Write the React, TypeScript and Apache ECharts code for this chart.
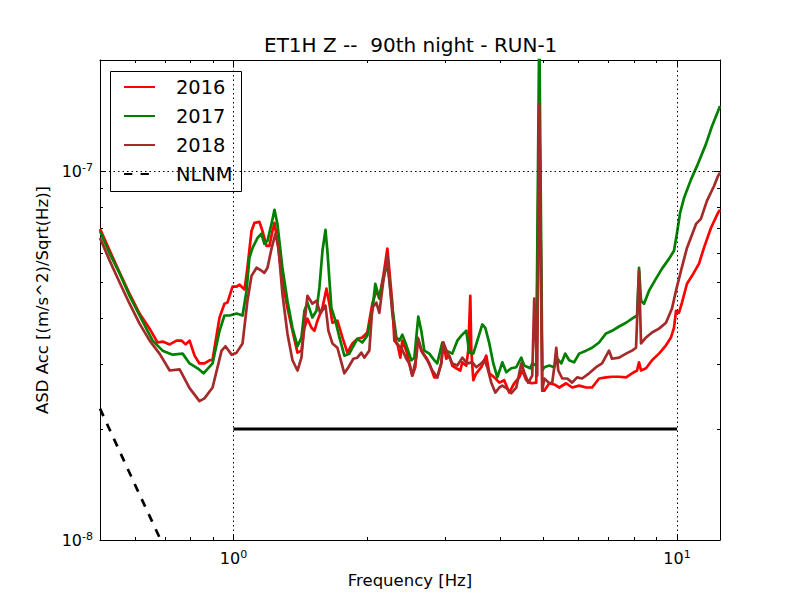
import React, { useEffect, useRef } from "react";
import * as echarts from "echarts";

const TITLE = "ET1H Z --  90th night - RUN-1";
const X_NAME = "Frequency [Hz]";
const Y_NAME = "ASD Acc [(m/s^2)/Sqrt(Hz)]";
const LEGEND_NAMES = ["2016", "2017", "2018", "NLNM"];

// axis limits: frequency in Hz, ASD in m/s^2/sqrt(Hz)
const F_MIN = 0.5;
const F_MAX = 12.5;
const A_MIN = 1e-8;
const A_MAX = 2e-7;
const MAJOR_F = [1, 10];
const MINOR_F = [0.6, 0.7, 0.8, 0.9, 2, 3, 4, 5, 6, 7, 8, 9];
const MAJOR_A = [1e-8, 1e-7];
const MINOR_A = [2e-8, 3e-8, 4e-8, 5e-8, 6e-8, 7e-8, 8e-8, 9e-8];

// ASD values below are given in units of 1e-8 (m/s^2)/sqrt(Hz)
const ASD_UNIT = 1e-8;

const freq2016 = [0.5, 0.526, 0.554, 0.583, 0.614, 0.647, 0.674, 0.692, 0.718, 0.744,
  0.764, 0.78, 0.796, 0.817, 0.838, 0.86, 0.883, 0.897, 0.93, 0.954,
  0.969, 0.995, 1.016, 1.032, 1.059, 1.075, 1.098, 1.115, 1.144, 1.162,
  1.187, 1.205, 1.224, 1.237, 1.256, 1.289, 1.323, 1.358, 1.394, 1.423,
  1.445, 1.468, 1.499, 1.522, 1.546, 1.587, 1.62, 1.645, 1.671, 1.715,
  1.76, 1.806, 1.854, 1.902, 1.952, 2.003, 2.056, 2.099, 2.132, 2.177,
  2.223, 2.281, 2.305, 2.341, 2.378, 2.402, 2.453, 2.491, 2.53, 2.57,
  2.597, 2.651, 2.721, 2.764, 2.836, 2.88, 2.941, 2.972, 3.018, 3.066,
  3.114, 3.179, 3.246, 3.28, 3.348, 3.383, 3.419, 3.437, 3.473, 3.527,
  3.62, 3.715, 3.774, 3.873, 3.975, 4.077, 4.184, 4.295, 4.407, 4.478,
  4.572, 4.692, 4.815, 4.891, 4.968, 5.02, 5.152, 5.287, 5.426, 5.623,
  5.801, 6.015, 6.237, 6.434, 6.672, 6.918, 7.136, 7.401, 7.674, 7.916,
  8.125, 8.21, 8.296, 8.514, 8.783, 9.107, 9.443, 9.691, 9.844, 9.947,
  10.1, 10.26, 10.53, 10.81, 11.21, 11.5, 11.93, 12.37, 12.5];
const asd2016 = [6.97, 6.08, 5.3, 4.65, 4.11, 3.74, 3.43, 3.45, 3.39, 3.47,
  3.47, 3.39, 3.47, 3.16, 3.01, 3.01, 3.07, 3.08, 4.01, 4.37,
  4.4, 4.86, 4.86, 4.92, 4.77, 5.47, 6.88, 7.24, 7.28, 6.88,
  6.27, 6.27, 6.88, 7.24, 6.47, 5.04, 4.26, 3.69, 3.22, 3.26,
  3.76, 3.98, 3.76, 3.69, 3.93, 4.26, 4.8, 4.37, 3.88, 3.93,
  3.54, 3.22, 3.41, 3.51, 3.54, 3.65, 4.37, 4.74, 4.54, 5.2,
  6.16, 4.37, 3.47, 3.41, 3.12, 3.47, 3.26, 3.01, 2.79, 2.94,
  3.54, 3.26, 3.12, 3.01, 2.76, 2.76, 3.01, 3.43, 3.1, 3.16,
  2.97, 2.92, 2.88, 3.03, 2.97, 3.26, 4.59, 3.26, 2.71, 2.83,
  2.94, 3.16, 2.83, 2.76, 2.67, 2.71, 2.51, 2.66, 2.76, 2.88,
  2.71, 2.66, 2.67, 15.46, 2.54, 2.54, 2.66, 2.64, 2.59, 2.66,
  2.59, 2.62, 2.59, 2.59, 2.74, 2.76, 2.77, 2.77, 2.76, 2.83,
  2.88, 3.03, 2.88, 2.92, 3.07, 3.2, 3.37, 3.54, 3.76, 4.18,
  4.13, 4.4, 4.95, 5.2, 5.61, 6.19, 7.02, 7.7, 7.85];

const freq2017 = [0.5, 0.526, 0.554, 0.583, 0.614, 0.657, 0.692, 0.729, 0.768, 0.796,
  0.83, 0.856, 0.897, 0.93, 0.954, 0.98, 1.016, 1.048, 1.07, 1.086,
  1.104, 1.133, 1.156, 1.174, 1.193, 1.218, 1.237, 1.256, 1.289, 1.323,
  1.358, 1.394, 1.423, 1.445, 1.468, 1.506, 1.538, 1.562, 1.587, 1.612,
  1.628, 1.662, 1.697, 1.733, 1.778, 1.825, 1.854, 1.902, 1.952, 2.003,
  2.056, 2.088, 2.132, 2.177, 2.223, 2.281, 2.329, 2.365, 2.402, 2.453,
  2.517, 2.557, 2.61, 2.651, 2.693, 2.764, 2.836, 2.88, 2.956, 3.018,
  3.114, 3.196, 3.263, 3.348, 3.401, 3.473, 3.546, 3.639, 3.696, 3.774,
  3.853, 3.934, 4.037, 4.122, 4.23, 4.341, 4.455, 4.524, 4.667, 4.716,
  4.815, 4.891, 4.968, 5.02, 5.152, 5.287, 5.37, 5.483, 5.598, 5.712,
  5.861, 6.015, 6.237, 6.434, 6.672, 6.918, 7.136, 7.401, 7.674, 7.916,
  8.125, 8.21, 8.296, 8.426, 8.648, 8.967, 9.25, 9.591, 9.844, 10.0,
  10.16, 10.37, 10.75, 11.09, 11.62, 11.99, 12.37, 12.5];
const asd2017 = [6.88, 5.97, 5.27, 4.59, 4.06, 3.47, 3.26, 3.18, 3.2, 3.01,
  2.92, 2.83, 3.01, 3.69, 4.06, 4.06, 4.11, 4.06, 4.74, 5.82,
  6.19, 6.59, 6.76, 6.35, 6.47, 7.19, 7.85, 7.19, 5.47, 4.45,
  3.76, 3.35, 3.54, 4.18, 4.4, 4.01, 4.18, 4.83, 6.08, 6.93,
  6.08, 4.26, 3.93, 3.54, 3.16, 3.2, 3.32, 3.51, 3.43, 3.58,
  4.18, 4.95, 4.51, 5.11, 5.64, 4.26, 3.54, 3.47, 3.6, 3.37,
  3.07, 3.12, 4.03, 3.69, 3.26, 3.2, 3.07, 3.01, 3.43, 3.26,
  3.2, 3.47, 3.58, 3.69, 3.22, 3.2, 3.47, 3.84, 3.76, 3.41,
  3.01, 2.76, 3.03, 2.85, 2.92, 2.94, 3.12, 2.97, 2.92, 3.01,
  2.97, 25, 2.88, 2.94, 2.97, 2.94, 3.1, 3.01, 3.2, 3.07,
  3.03, 3.2, 3.26, 3.32, 3.43, 3.63, 3.69, 3.79, 3.88, 3.98,
  4.06, 5.47, 4.45, 4.37, 4.74, 5.11, 5.44, 5.78, 6.08, 6.8,
  7.7, 8.45, 9.48, 10.31, 11.83, 13.23, 14.53, 15.0];

const freq2018 = [0.5, 0.526, 0.554, 0.583, 0.614, 0.647, 0.681, 0.718, 0.756, 0.796,
  0.838, 0.86, 0.897, 0.94, 0.959, 0.99, 1.016, 1.048, 1.075, 1.098,
  1.127, 1.156, 1.174, 1.193, 1.218, 1.243, 1.263, 1.289, 1.323, 1.358,
  1.394, 1.423, 1.445, 1.468, 1.506, 1.538, 1.57, 1.612, 1.637, 1.671,
  1.715, 1.778, 1.816, 1.863, 1.902, 1.942, 1.972, 2.024, 2.056, 2.099,
  2.132, 2.177, 2.223, 2.281, 2.329, 2.39, 2.453, 2.491, 2.53, 2.583,
  2.61, 2.665, 2.735, 2.807, 2.88, 2.941, 2.972, 3.034, 3.114, 3.196,
  3.28, 3.366, 3.455, 3.527, 3.62, 3.677, 3.735, 3.813, 3.893, 3.975,
  4.037, 4.122, 4.23, 4.341, 4.455, 4.524, 4.619, 4.716, 4.765, 4.84,
  4.891, 4.968, 5.02, 5.152, 5.232, 5.287, 5.342, 5.398, 5.511, 5.653,
  5.801, 5.953, 6.109, 6.335, 6.569, 6.776, 7.026, 7.136, 7.401, 7.674,
  7.916, 8.083, 8.21, 8.296, 8.514, 8.783, 9.107, 9.443, 9.742, 9.947,
  10.21, 10.53, 11.04, 11.32, 11.68, 12.12, 12.37, 12.5];
const asd2018 = [6.59, 5.71, 4.98, 4.37, 3.86, 3.47, 3.2, 2.88, 2.9, 2.58,
  2.38, 2.42, 2.59, 3.26, 3.35, 3.18, 3.22, 3.41, 4.45, 5.2,
  5.47, 5.37, 5.3, 5.47, 6.16, 6.76, 6.19, 4.65, 3.63, 3.07,
  2.88, 3.12, 3.86, 4.59, 4.37, 4.45, 4.11, 4.32, 3.69, 3.41,
  3.32, 2.83, 2.94, 3.1, 3.12, 3.22, 3.12, 3.26, 4.26, 4.4,
  4.13, 5.04, 5.89, 4.11, 3.41, 3.32, 3.1, 3.01, 2.79, 3.12,
  3.51, 3.22, 3.07, 2.88, 2.76, 3.01, 3.43, 3.22, 3.01, 2.97,
  3.12, 3.01, 3.03, 2.94, 3.01, 3.07, 2.94, 2.67, 2.51, 2.59,
  2.62, 2.58, 2.5, 2.59, 3.01, 2.85, 2.67, 2.79, 4.51, 2.79,
  15.18, 2.54, 2.74, 2.66, 2.67, 2.94, 3.32, 2.88, 2.74, 2.74,
  2.67, 2.76, 2.74, 2.83, 2.94, 3.01, 3.26, 3.1, 3.12, 3.2,
  3.26, 3.32, 5.37, 3.41, 3.54, 3.65, 3.74, 3.88, 4.24, 4.74,
  5.37, 6.19, 7.19, 7.42, 8.3, 9.11, 9.69, 9.9];

const freqNLNM = [0.5, 0.6, 0.72];
const asdNLNM = [2.27, 1.41, 0.88];

const freqRef = [1, 10];
const asdRef = [2, 2];

const FONT = "DejaVu Sans";

const toPoints = (f: number[], a: number[]) =>
  f.map((x, i) => [Math.log10(x), Math.log10(a[i] * ASD_UNIT)]);

export default function App() {
  const ref = useRef<HTMLDivElement>(null);

  useEffect(() => {
    if (!ref.current) return;
    const chart = echarts.init(ref.current, null, { renderer: "svg" });
    const lg = (v: number) => Math.log10(v);
    const xMin = lg(F_MIN);
    const xMax = lg(F_MAX);
    const yMin = lg(A_MIN);
    const yMax = lg(A_MAX);

    const rich = {
      b: { fontSize: 16, lineHeight: 18, color: "#000", fontFamily: FONT },
      s: { fontSize: 11, lineHeight: 11, verticalAlign: "top", color: "#000", fontFamily: FONT },
    };
    const fmt = (v: number) => `{b|10}{s|${Math.round(v)}}`;
    const black = { color: "#000", width: 1 };
    const lineOn = { show: true, onZero: false, lineStyle: black };
    const lineOff = { show: false, onZero: false };
    const majorTick = (vals: number[]) => ({
      show: true, inside: true, length: 6, customValues: vals.map(lg), lineStyle: black,
    });
    const minorTick = (vals: number[]) => ({
      show: true, inside: true, length: 3, customValues: vals.map(lg), lineStyle: black,
    });

    const baseX = { type: "value", min: xMin, max: xMax, splitLine: { show: false } };
    const baseY = { type: "value", min: yMin, max: yMax, splitLine: { show: false } };

    const lineSeries = (name: string, f: number[], a: number[], color: string, z: number, type: any = "solid", width = 2.7) => ({
      name,
      type: "line",
      data: toPoints(f, a),
      symbol: "none",
      showSymbol: false,
      clip: true,
      silent: true,
      z,
      lineStyle: { color, width, type, join: "round", cap: "butt" },
      itemStyle: { color },
      emphasis: { disabled: true },
    });

    chart.setOption({
      animation: false,
      backgroundColor: "#fff",
      textStyle: { fontFamily: FONT },
      title: {
        text: TITLE,
        left: 264,
        top: 35,
        padding: 0,
        textStyle: { fontSize: 20, fontWeight: "normal", color: "#000", fontFamily: FONT },
      },
      graphic: [
        {
          type: "rect",
          z: 3,
          silent: true,
          shape: { x: 110.5, y: 71.5, width: 131, height: 120 },
          style: { fill: "#fff", stroke: "#000", lineWidth: 1 },
        },
      ],
      legend: {
        data: LEGEND_NAMES,
        orient: "vertical",
        left: 110,
        top: 71,
        padding: [5, 10, 7, 13],
        itemWidth: 31,
        itemHeight: 14,
        itemGap: 7,
        borderWidth: 0,
        backgroundColor: "transparent",
        z: 10,
        selectedMode: false,
        itemStyle: { color: "rgba(0,0,0,0)", borderWidth: 0 },
        textStyle: { fontSize: 19.4, lineHeight: 22, color: "#000", fontFamily: FONT, padding: [0, 0, 0, 16] },
      },
      grid: { left: 100, right: 80, top: 60, bottom: 60, containLabel: false },
      xAxis: [
        {
          ...baseX, position: "bottom", axisLine: lineOn, axisTick: majorTick(MAJOR_F),
          axisLabel: { show: true, customValues: MAJOR_F.map(lg), formatter: fmt, rich, margin: 9 },
          name: X_NAME, nameLocation: "middle", nameGap: 32,
          nameTextStyle: { fontSize: 16.5, color: "#000", fontFamily: FONT },
        },
        { ...baseX, position: "bottom", axisLine: lineOff, axisTick: minorTick(MINOR_F), axisLabel: { show: false } },
        { ...baseX, position: "top", axisLine: lineOn, axisTick: majorTick(MAJOR_F), axisLabel: { show: false } },
        { ...baseX, position: "top", axisLine: lineOff, axisTick: minorTick(MINOR_F), axisLabel: { show: false } },
      ],
      yAxis: [
        {
          ...baseY, position: "left", axisLine: lineOn, axisTick: majorTick(MAJOR_A),
          axisLabel: { show: true, customValues: MAJOR_A.map(lg), formatter: fmt, rich, margin: 7 },
          name: Y_NAME, nameLocation: "middle", nameGap: 49, nameRotate: 90,
          nameTextStyle: { fontSize: 16.5, color: "#000", fontFamily: FONT },
        },
        { ...baseY, position: "left", axisLine: lineOff, axisTick: minorTick(MINOR_A), axisLabel: { show: false } },
        { ...baseY, position: "right", axisLine: lineOn, axisTick: majorTick(MAJOR_A), axisLabel: { show: false } },
        { ...baseY, position: "right", axisLine: lineOff, axisTick: minorTick(MINOR_A), axisLabel: { show: false } },
      ],
      series: [
        {
          name: "grid",
          type: "line",
          data: [],
          z: 1,
          silent: true,
          markLine: {
            silent: true,
            symbol: ["none", "none"],
            label: { show: false },
            lineStyle: { color: "#000", width: 1, type: [1.5, 3] },
            emphasis: { disabled: true },
            data: [
              ...MAJOR_F.map((v) => ({ xAxis: lg(v) })),
              ...MAJOR_A.filter((v) => v > A_MIN).map((v) => ({ yAxis: lg(v) })),
            ],
          },
        },
        lineSeries("2016", freq2016, asd2016, "#ff0000", 3),
        lineSeries("2017", freq2017, asd2017, "#008000", 4),
        lineSeries("2018", freq2018, asd2018, "#a52a2a", 5),
        lineSeries("NLNM", freqNLNM, asdNLNM, "#000000", 6, [8.3, 8.3]),
        lineSeries("ref", freqRef, asdRef, "#000000", 7, "solid", 3),
      ],
    });

    return () => chart.dispose();
  }, []);

  return (
    <div
      ref={ref}
      style={{ position: "fixed", left: 0, top: 0, width: 800, height: 600, background: "#fff" }}
    />
  );
}
